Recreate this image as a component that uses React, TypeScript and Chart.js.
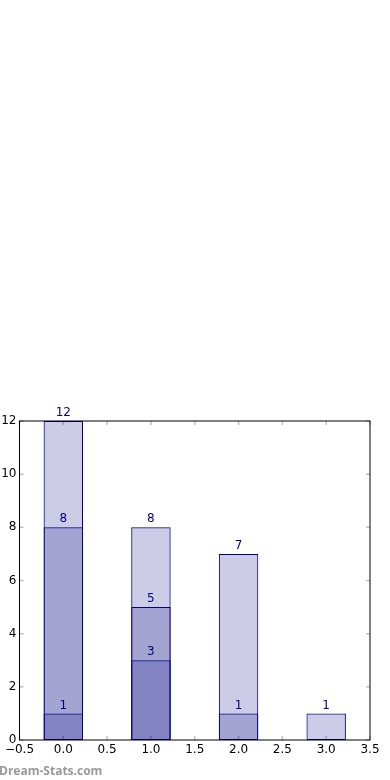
import React, { useEffect, useRef } from "react";
import { Chart, registerables } from "chart.js";

Chart.register(...registerables);

const positions = [0, 1, 2, 3];
const totalValues = [12, 8, 7, 1];
const middleValues: (number | null)[] = [8, 5, 1, null];
const lowValues: (number | null)[] = [1, 3, null, null];
const xTicks = [-0.5, 0, 0.5, 1, 1.5, 2, 2.5, 3, 3.5];
const yTicks = [0, 2, 4, 6, 8, 10, 12];

const FONT = "DejaVu Sans";
const NAVY = "#000080";
const FILL = "rgba(0,0,128,0.2)";

function toPoints(vals: (number | null)[]) {
  const out: { x: number; y: number }[] = [];
  vals.forEach((v, i) => {
    if (v !== null) out.push({ x: positions[i], y: v });
  });
  return out;
}

const framePlugin = {
  id: "frame",
  afterDatasetsDraw(chart: any) {
    const { ctx, chartArea: a, scales } = chart;
    ctx.save();
    // value labels
    ctx.fillStyle = NAVY;
    ctx.font = `12px "${FONT}"`;
    ctx.textAlign = "center";
    ctx.textBaseline = "bottom";
    chart.data.datasets.forEach((ds: any) => {
      ds.data.forEach((p: any) => {
        const x = scales.x.getPixelForValue(p.x);
        const y = scales.y.getPixelForValue(p.y);
        ctx.fillText(String(p.y), x, y - 2);
      });
    });
    // tick marks inside
    ctx.strokeStyle = "rgba(0,0,0,0.25)";
    ctx.lineWidth = 1.5;
    const L = 4;
    xTicks.forEach((t) => {
      const x = scales.x.getPixelForValue(t);
      ctx.beginPath();
      ctx.moveTo(x, a.bottom);
      ctx.lineTo(x, a.bottom - L);
      ctx.moveTo(x, a.top);
      ctx.lineTo(x, a.top + L);
      ctx.stroke();
    });
    yTicks.forEach((t) => {
      const y = scales.y.getPixelForValue(t);
      ctx.beginPath();
      ctx.moveTo(a.left, y);
      ctx.lineTo(a.left + L, y);
      ctx.moveTo(a.right, y);
      ctx.lineTo(a.right - L, y);
      ctx.stroke();
    });
    // frame
    ctx.strokeStyle = "#000";
    ctx.lineWidth = 1;
    ctx.strokeRect(a.left, a.top, a.right - a.left, a.bottom - a.top);
    // watermark
    ctx.fillStyle = "#999999";
    ctx.font = `bold 12px "Open Sans"`;
    ctx.textAlign = "left";
    ctx.textBaseline = "alphabetic";
    ctx.fillText("Dream-Stats.com", -1, 775);
    ctx.restore();
  },
};

export default function App() {
  const ref = useRef<HTMLCanvasElement>(null);
  useEffect(() => {
    if (!ref.current) return;
    const mk = (vals: (number | null)[]) => ({
      data: toPoints(vals),
      backgroundColor: FILL,
      borderColor: NAVY,
      borderWidth: 1,
      borderSkipped: false as any,
      grouped: false,
      barPercentage: 0.9,
      categoryPercentage: 1,
    });
    const chart = new Chart(ref.current, {
      type: "bar",
      data: {
        datasets: [mk(lowValues), mk(middleValues), mk(totalValues)] as any,
      },
      options: {
        responsive: false,
        animation: false,
        layout: { padding: { left: 0, right: 20, top: 421, bottom: 20 } },
        plugins: { legend: { display: false }, tooltip: { enabled: false } },
        scales: {
          x: {
            type: "linear",
            min: -0.5,
            max: 3.5,
            offset: false,
            grid: { display: false, drawTicks: false },
            border: { display: false },
            afterBuildTicks: (s: any) => {
              s.ticks = xTicks.map((v) => ({ value: v }));
            },
            afterFit: (s: any) => {
              s.height = 20;
            },
            ticks: {
              padding: 3,
              color: "#000",
              font: { family: FONT, size: 12 },
              maxRotation: 0,
              autoSkip: false,
              callback: (v: any) => {
                const n = Number(v);
                const s = Math.abs(n).toFixed(1);
                return n < 0 ? "\u2212" + s : s;
              },
            },
          },
          y: {
            type: "linear",
            min: 0,
            max: 12,
            grid: { display: false, drawTicks: false },
            border: { display: false },
            afterBuildTicks: (s: any) => {
              s.ticks = yTicks.map((v) => ({ value: v }));
            },
            afterFit: (s: any) => {
              s.width = 19.5;
            },
            ticks: {
              padding: 3,
              color: "#000",
              font: { family: FONT, size: 12 },
              callback: (v: any) => String(v),
            },
          },
        },
      },
      plugins: [framePlugin],
    });
    return () => chart.destroy();
  }, []);
  return (
    <div style={{ position: "fixed", left: 0, top: 0, width: 390, height: 780, background: "#fff" }}>
      <canvas ref={ref} width={390} height={780} style={{ display: "block" }} />
    </div>
  );
}
